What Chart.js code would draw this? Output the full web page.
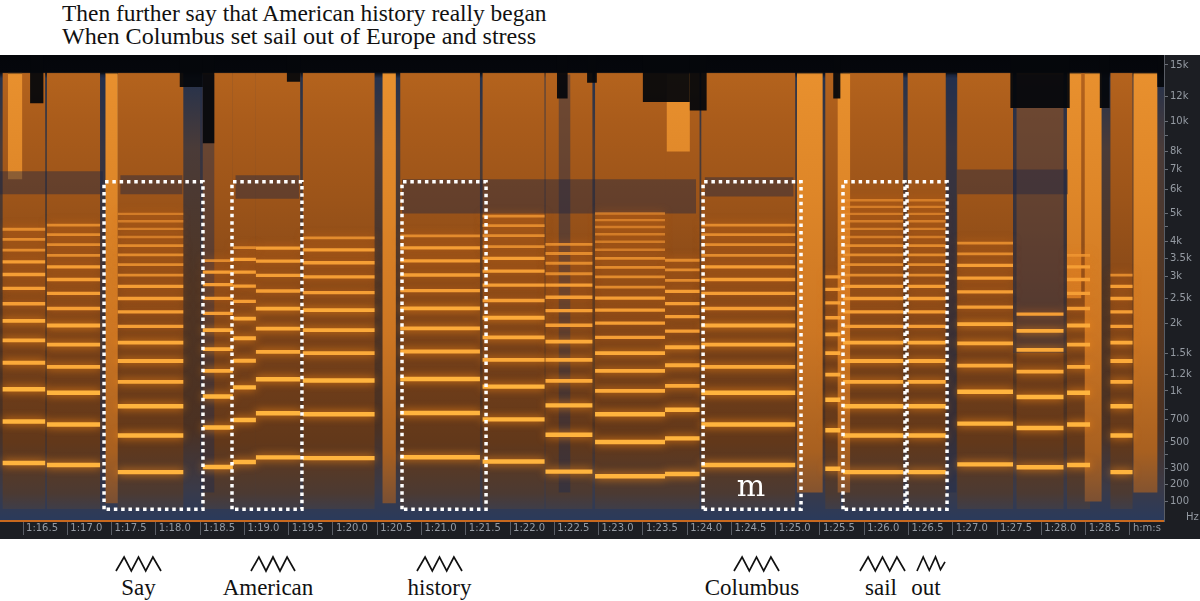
<!DOCTYPE html>
<html>
<head>
<meta charset="utf-8">
<script src="https://cdn.jsdelivr.net/npm/chart.js@4.4.1/dist/chart.umd.min.js"></script>
<style>
    html, body { margin: 0; padding: 0; background: #fff; }
    body { width: 1200px; height: 601px; position: relative; overflow: hidden; font-family: 'Liberation Serif', 'DejaVu Serif', serif; color: #111; }
    .title-line { position: absolute; left: 62px; font-size: 23px; line-height: 23px; white-space: nowrap; }
    #wrap { position: absolute; left: 0; top: 55px; width: 1200px; height: 484px; }
    .word { position: absolute; top: 576px; font-size: 23px; line-height: 23px; white-space: nowrap; transform: translateX(-50%); }
    #zigs { position: absolute; left: 0; top: 552px; }
</style>
</head>
<body>
<div class="title-line" id="t1" style="top:2px">Then further say that American history really began</div>
<div class="title-line" id="t2" style="top:25px">When Columbus set sail out of Europe and stress</div>
<div id="wrap"><canvas id="spectro"></canvas></div>
<svg id="zigs" width="1200" height="26"></svg>
<div id="words"></div>

<script>
// time axis (seconds), labels as shown by the editor
const timeTickValues = [76.5, 77.0, 77.5, 78.0, 78.5, 79.0, 79.5, 80.0, 80.5, 81.0, 81.5, 82.0, 82.5,
    83.0, 83.5, 84.0, 84.5, 85.0, 85.5, 86.0, 86.5, 87.0, 87.5, 88.0, 88.5, 89.0];
const timeTickLabels = ['1:16.5', '1:17.0', '1:17.5', '1:18.0', '1:18.5', '1:19.0', '1:19.5', '1:20.0', '1:20.5',
    '1:21.0', '1:21.5', '1:22.0', '1:22.5', '1:23.0', '1:23.5', '1:24.0', '1:24.5', '1:25.0', '1:25.5',
    '1:26.0', '1:26.5', '1:27.0', '1:27.5', '1:28.0', '1:28.5', 'h:m:s'];

// frequency axis (Hz), mel spaced
const freqTickValues = [15, 100, 200, 300, 400, 500, 700, 800, 1000, 1200, 1500, 2000, 2500, 3000, 3500,
    4000, 4500, 5000, 6000, 7000, 8000, 9000, 10000, 12000, 15000];
const freqTickLabels = ['     Hz', '100', '200', '300', '', '500', '700', '', '1k', '1.2k', '1.5k', '2k', '2.5k', '3k', '3.5k',
    '4k', '', '5k', '6k', '7k', '8k', '', '10k', '12k', '15k'];

// sung notes: start / end (s), fundamental (Hz), highest visible harmonic (Hz)
const noteStart = [76.27, 76.77, 77.57, 78.53, 78.87, 79.13, 79.66, 80.76, 81.69, 82.40, 82.96, 83.75, 84.16, 85.56, 85.76, 86.49, 87.05, 87.72, 88.29, 88.78];
const noteEnd   = [76.75, 77.37, 78.31, 78.87, 79.13, 79.63, 80.47, 81.66, 82.39, 82.93, 83.75, 84.14, 85.22, 85.73, 86.44, 86.92, 87.68, 88.25, 88.55, 89.03];
const noteF0    = [340, 326, 277, 312, 347, 380, 375, 381, 350, 280, 250, 265, 326, 300, 277, 277, 330, 310, 326, 277];
const noteTop   = [4600, 4600, 5000, 3600, 4000, 4000, 4300, 4500, 5000, 4000, 5200, 3500, 4600, 3000, 5600, 5600, 4200, 2200, 3600, 3200];

// consonant bursts (bright full columns)
const burstStart = [76.33, 77.43, 80.56, 83.77, 85.24, 85.70, 88.29, 88.49, 89.04];
const burstEnd   = [76.49, 77.57, 80.71, 84.03, 85.53, 85.84, 88.45, 88.68, 89.31];
const burstLow   = [6500, 90, 90, 8000, 150, 150, 2500, 100, 150];
const burstHigh  = [14200, 14200, 14200, 14200, 14200, 14200, 14200, 14200, 14200];

// dark notches at the top of the band
const notchStart  = [76.58, 78.27, 78.53, 79.48, 82.53, 82.87, 83.50, 84.03, 85.65, 87.65, 88.66, 89.31];
const notchEnd    = [76.73, 78.53, 78.66, 79.63, 82.65, 82.98, 84.03, 84.22, 85.73, 88.32, 88.77, 89.39];
const notchBottom = [11400, 12800, 8500, 13300, 11800, 13200, 11500, 10800, 11800, 11000, 11000, 12800];

// dark band around 6 kHz
const bandStart = [76.24, 77.60, 78.90, 80.78, 84.20, 87.05];
const bandEnd   = [77.40, 78.30, 79.62, 84.10, 85.20, 88.30];
const bandLow   = [5800, 5800, 5600, 5000, 5700, 5800];
const bandHigh  = [6900, 6700, 6700, 6500, 6600, 7000];

// darker gaps between notes
const gapStart = [77.37, 78.50, 82.55, 87.68, 86.93];
const gapEnd   = [77.43, 78.66, 82.68, 88.28, 87.04];
const gapLow   = [100, 150, 150, 1500, 150];
const gapHigh  = [14000, 14000, 14000, 14000, 14000];

// highlighted words (dotted boxes)
const boxStart = [77.415, 78.86, 80.78, 84.18, 85.76, 86.483];
const boxEnd   = [78.532, 79.65, 81.729, 85.286, 86.46, 86.935];
const boxLowHz = 58;
const boxHighHz = 6375;
const markText = 'm';
const markTime = 84.72;
const markHz = 128;

// lyrics under the chart
const words = ['Say', 'American', 'history', 'Columbus', 'sail', 'out'];
const wordCenter = [138.5, 268, 439.5, 752, 881, 926];
const zigLeft = [116, 251, 417, 734, 860, 917];
const zigRight = [161, 295, 462, 779, 905, 945];

const mel = hz => 2595 * Math.log10(1 + hz / 700);

function gradientFill(stops) {
    return (context) => {
        const chart = context.chart;
        const area = chart.chartArea;
        if (!area) {
            return 'rgba(0,0,0,0)';
        }
        const g = chart.ctx.createLinearGradient(0, area.top, 0, area.bottom);
        stops.forEach(s => g.addColorStop(s[0], s[1]));
        return g;
    };
}

function rect(t0, t1, lo, hi) {
    return [{x: t0, y: mel(lo)}, {x: t0, y: mel(hi)}, {x: t1, y: mel(hi)}, {x: t1, y: mel(lo)}];
}

function shape(points, fillColor, order) {
    return {
        type: 'line', data: points, fill: 'shape', backgroundColor: fillColor,
        borderColor: 'transparent', borderWidth: 0, pointRadius: 0, order: order
    };
}

const noteFill = gradientFill([[0, '#0a0a0c'], [0.036, '#0a0a0c'], [0.04, '#b4631d'], [0.14, '#aa5c1b'],
    [0.31, '#9c5419'], [0.48, '#8a4a18'], [0.65, '#733f19'], [0.83, '#62381a'], [0.94, '#4c3a32'], [1, '#34405a']]);
const burstFill = gradientFill([[0, '#0a0a0c'], [0.036, '#0a0a0c'], [0.042, '#e8902e'], [0.3, '#de8628'],
    [0.6, '#cc7623'], [0.85, '#a86020'], [1, '#6a4a3a']]);

const datasets = [];

for (let i = 0; i < noteStart.length; i++) {
    datasets.push(shape(rect(noteStart[i], noteEnd[i], 60, 14200), noteFill, 8));
}
for (let i = 0; i < burstStart.length; i++) {
    datasets.push(shape(rect(burstStart[i], burstEnd[i], burstLow[i], burstHigh[i]), burstFill, 7));
}
for (let i = 0; i < gapStart.length; i++) {
    datasets.push(shape(rect(gapStart[i], gapEnd[i], gapLow[i], gapHigh[i]), 'rgba(30,44,78,0.45)', 6));
}
for (let i = 0; i < bandStart.length; i++) {
    datasets.push(shape(rect(bandStart[i], bandEnd[i], bandLow[i], bandHigh[i]), 'rgba(24,36,68,0.42)', 5));
}
for (let i = 0; i < notchStart.length; i++) {
    datasets.push(shape(rect(notchStart[i], notchEnd[i], notchBottom[i], 17000), 'rgba(5,7,12,0.94)', 4));
}

// harmonic partials of every note
const maxHarmonic = 20;
for (let k = 1; k <= maxHarmonic; k++) {
    const pts = [];
    for (let i = 0; i < noteStart.length; i++) {
        const f = noteF0[i] * k;
        if (f <= noteTop[i]) {
            pts.push({x: noteStart[i], y: mel(f)}, {x: noteEnd[i], y: mel(f)}, {x: noteEnd[i], y: null});
        }
    }
    let color = '#ffb43e', width = 4.4;
    if (k > 3) { color = '#fcaa3a'; width = 3.8; }
    if (k > 6) { color = '#f59e35'; width = 3.3; }
    if (k > 10) { color = 'rgba(240,150,50,0.85)'; width = 2.8; }
    if (k > 14) { color = 'rgba(232,142,48,0.72)'; width = 2.4; }
    datasets.push({
        type: 'line', data: pts, borderColor: color, borderWidth: width, pointRadius: 0,
        fill: false, spanGaps: false, borderCapStyle: 'butt', order: 2,
        glow: k <= 6 ? 'rgba(255,140,20,0.9)' : 'rgba(240,120,20,0.6)'
    });
}

for (let i = 0; i < boxStart.length; i++) {
    datasets.push({
        type: 'line',
        data: [{x: boxStart[i], y: mel(boxLowHz)}, {x: boxStart[i], y: mel(boxHighHz)},
            {x: boxEnd[i], y: mel(boxHighHz)}, {x: boxEnd[i], y: mel(boxLowHz)}, {x: boxStart[i], y: mel(boxLowHz)}],
        borderColor: '#ffffff', borderWidth: 3.5, borderDash: [3.5, 3.8], borderCapStyle: 'butt',
        pointRadius: 0, fill: false, order: 0
    });
}

const backdrop = {
    id: 'backdrop',
    beforeDraw(chart) {
        const {ctx, chartArea: a, width, height} = chart;
        ctx.save();
        ctx.fillStyle = '#1c1e23';
        ctx.fillRect(0, 0, width, height);
        const g = ctx.createLinearGradient(0, a.top, 0, a.bottom);
        g.addColorStop(0, '#04060a');
        g.addColorStop(0.036, '#05070c');
        g.addColorStop(0.05, '#26324c');
        g.addColorStop(0.2, '#4a3b38');
        g.addColorStop(0.5, '#4f3524');
        g.addColorStop(0.8, '#4b3122');
        g.addColorStop(0.93, '#3a3a48');
        g.addColorStop(1, '#2a3a5c');
        ctx.fillStyle = g;
        ctx.fillRect(a.left, a.top, a.right - a.left, a.bottom - a.top);
        ctx.restore();
    }
};

const glow = {
    id: 'glow',
    beforeDatasetDraw(chart, args) {
        const ds = chart.data.datasets[args.index];
        if (ds.glow) {
            chart.ctx.save();
            chart.ctx.shadowColor = ds.glow;
            chart.ctx.shadowBlur = 8;
        }
    },
    afterDatasetDraw(chart, args) {
        if (chart.data.datasets[args.index].glow) {
            chart.ctx.restore();
        }
    }
};

const mark = {
    id: 'mark',
    afterDatasetsDraw(chart) {
        const ctx = chart.ctx;
        ctx.save();
        ctx.fillStyle = '#ffffff';
        ctx.font = '30px "DejaVu Serif"';
        ctx.textAlign = 'center';
        ctx.textBaseline = 'alphabetic';
        ctx.fillText(markText, chart.scales.x.getPixelForValue(markTime), chart.scales.y.getPixelForValue(mel(markHz)));
        ctx.restore();
    }
};

const axisFont = {family: '"DejaVu Sans", sans-serif', size: 10};

new Chart(document.getElementById('spectro'), {
    type: 'line',
    data: {datasets: datasets},
    options: {
        responsive: true,
        maintainAspectRatio: false,
        animation: false,
        events: [],
        layout: {padding: 0},
        plugins: {legend: {display: false}, tooltip: {enabled: false}},
        scales: {
            x: {
                type: 'linear', min: 76.24, max: 89.385,
                afterFit: s => { s.height = 18; s.paddingLeft = 0; s.paddingRight = 0; },
                afterBuildTicks: s => { s.ticks = timeTickValues.map(v => ({value: v})); },
                ticks: {
                    callback: (v, i) => timeTickLabels[i], autoSkip: false, maxRotation: 0,
                    align: 'start', labelOffset: 3, padding: -13, color: '#959ba3', font: axisFont
                },
                grid: {drawOnChartArea: false, tickLength: 14, color: '#5a5e66'},
                border: {display: true, color: '#c8691e', width: 2}
            },
            y: {
                type: 'linear', position: 'right', min: 0, max: 3582,
                afterFit: s => { s.width = 36; s.paddingTop = 0; s.paddingBottom = 0; },
                afterBuildTicks: s => { s.ticks = freqTickValues.map(f => ({value: mel(f)})); },
                ticks: {callback: (v, i) => freqTickLabels[i], autoSkip: false, padding: 2, color: '#959ba3', font: axisFont},
                grid: {
                    drawOnChartArea: false, tickLength: 4, color: '#6a6e76',
                    tickColor: c => (freqTickLabels[c.index] || '').trim() === 'Hz' ? 'rgba(0,0,0,0)' : '#6a6e76'
                },
                border: {display: true, color: '#5a5e66', width: 1}
            }
        }
    },
    plugins: [backdrop, glow, mark]
});

// lyrics and the little pitch zigzags
const wordsEl = document.getElementById('words');
words.forEach((w, i) => {
    const d = document.createElement('div');
    d.className = 'word';
    d.style.left = wordCenter[i] + 'px';
    d.textContent = w;
    wordsEl.appendChild(d);
});

const zigShape = [[0, 1], [0.18, 0], [0.34, 1], [0.5, 0], [0.66, 1], [0.82, 0], [1, 1]];
const zigShort = [[0, 1], [0.22, 0], [0.44, 0.95], [0.66, 0], [0.84, 0.9], [1, 0.35]];
const svg = document.getElementById('zigs');
zigLeft.forEach((x0, i) => {
    const w = zigRight[i] - x0;
    const pattern = words[i] === 'out' ? zigShort : zigShape;
    const pts = pattern.map(p => (x0 + p[0] * w).toFixed(1) + ',' + (5 + p[1] * 14).toFixed(1)).join(' ');
    const pl = document.createElementNS('http://www.w3.org/2000/svg', 'polyline');
    pl.setAttribute('points', pts);
    pl.setAttribute('fill', 'none');
    pl.setAttribute('stroke', '#111');
    pl.setAttribute('stroke-width', '1.7');
    svg.appendChild(pl);
});

// stretch the title lines to the width they take in the original
function fitWidth(el, target) {
    const c = document.createElement('canvas').getContext('2d');
    const size = parseFloat(getComputedStyle(el).fontSize);
    c.font = size + 'px "Liberation Serif"';
    const w = c.measureText(el.textContent).width;
    el.style.fontSize = (size * target / w).toFixed(2) + 'px';
}
fitWidth(document.getElementById('t1'), 486);
fitWidth(document.getElementById('t2'), 474);
</script>
</body>
</html>
